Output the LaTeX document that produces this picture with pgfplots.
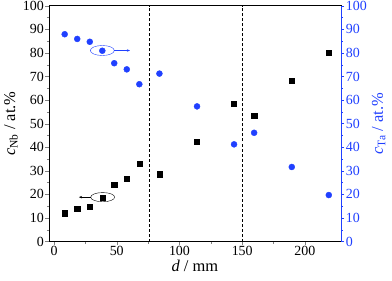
\documentclass[border=0pt]{standalone}
\usepackage{fontspec}
\setmainfont{Liberation Serif}
\usepackage{pgfplots}
\pgfplotsset{compat=1.18}
\usetikzlibrary{calc,arrows.meta}
\definecolor{tablue}{RGB}{32,64,255}
\pgfplotstableread{
x y
8.5 12.0
18.5 13.8
28.5 14.9
38.5 18.7
48 24.1
58 26.5
68 32.9
84 28.5
114 42.2
143.5 58.3
159.5 53.5
189.5 68.1
219 80.1
}\nbdata
\pgfplotstableread{
x y
8.5 87.9
18.5 85.9
28.5 84.7
38.5 80.9
48 75.6
58 73.0
68 66.7
84 71.2
114 57.3
143.5 41.2
159.5 46.1
189.5 31.6
219 19.7
}\tadata
\begin{document}
\begin{tikzpicture}
\pgfplotsset{
  common/.style={
    scale only axis, width=291.7bp, height=235.8bp,
    xmin=-4, xmax=228.5, ymin=0, ymax=100,
    tick align=outside,
    major tick length=3.5bp, minor tick length=2bp,
    minor x tick num=1, minor y tick num=1,
    tick label style={font=\fontsize{14}{16}\selectfont, inner sep=1.5bp},
    label style={font=\fontsize{16.5}{19}\selectfont},
    /pgf/number format/assume math mode=true,
    xtick={0,50,100,150,200}, ytick={0,10,...,100},
    every axis plot/.append style={only marks},
  }
}
\begin{axis}[common,
  xtick pos=bottom, ytick pos=left,
  xlabel={\textit{d} / mm},
  ylabel={\textit{c}\textsubscript{Nb} / at.\%},
  xlabel style={yshift=-1bp, inner sep=1bp},
]
\coordinate (SW) at (rel axis cs:0,0);
\coordinate (NE) at (rel axis cs:1,1);
\addplot[mark=square*, mark size=2.6bp, black] table[x=x,y=y]{\nbdata};
\addplot[no marks, black, thin, dash pattern=on 3bp off 2bp, sharp plot] coordinates {(75.5,0) (75.5,100)};
\addplot[no marks, black, thin, dash pattern=on 3bp off 2bp, sharp plot] coordinates {(150,0) (150,100)};
\draw[black, thin] (axis cs:38.8,18.8) ellipse [x radius=12bp, y radius=4.6bp];
\draw[black, thin, -{Stealth[length=3bp,width=2.5bp]}] (axis cs:29.2,18.8) -- (axis cs:19.9,18.8);
\end{axis}
\begin{axis}[common,
  axis x line=none, axis y line*=right,
  y axis line style={tablue}, y tick style={tablue},
  yticklabel style={tablue},
  ylabel={\textit{c}\textsubscript{Ta} / at.\%},
  ylabel style={tablue},
]
\addplot[mark=*, mark size=3bp, tablue] table[x=x,y=y]{\tadata};
\draw[tablue, thin] (axis cs:38.5,81) ellipse [x radius=12bp, y radius=5bp];
\draw[tablue, thin, -{Stealth[length=3bp,width=2.5bp]}] (axis cs:48,81) -- (axis cs:60.5,81);
\end{axis}
\pgfresetboundingbox
\path[use as bounding box] ($(SW)+(-49bp,-39.5bp)$) rectangle ($(NE)+(51.3bp,5.7bp)$);
\end{tikzpicture}
\end{document}
